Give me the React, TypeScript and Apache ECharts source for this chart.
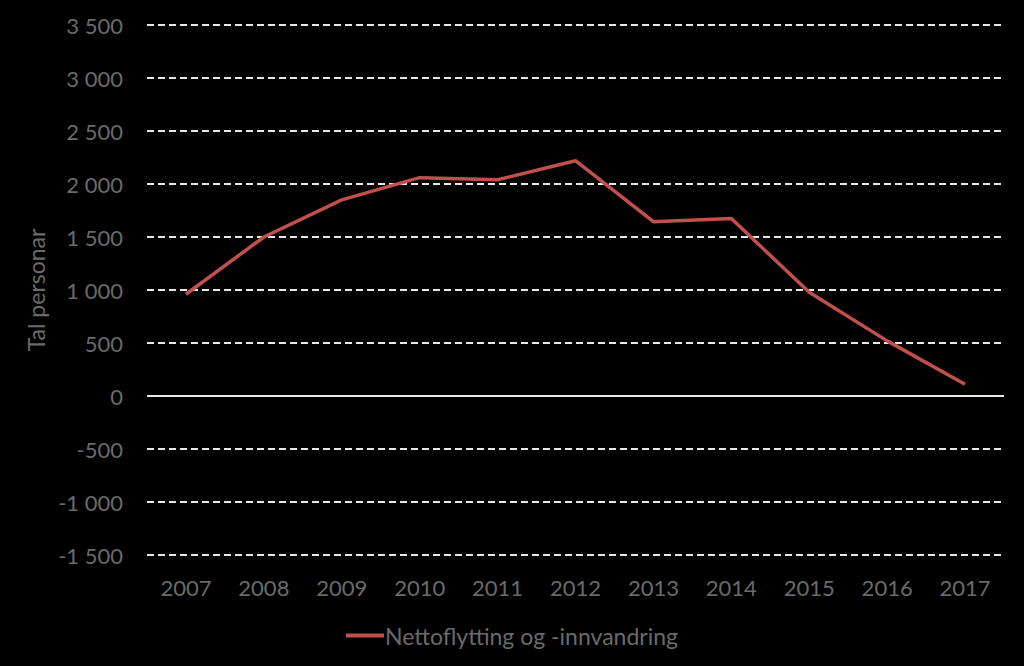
import React, { useEffect, useRef } from "react";
import * as echarts from "echarts";

const years = ["2007", "2008", "2009", "2010", "2011", "2012", "2013", "2014", "2015", "2016", "2017"];
const netMigration = [960, 1500, 1850, 2060, 2040, 2220, 1645, 1675, 978, 520, 110];
const seriesName = "Nettoflytting og -innvandring";
const yAxisName = "Tal personar";

const fmt = (v: number) => {
  const s = Math.abs(v).toString().replace(/\B(?=(\d{3})+(?!\d))/g, " ");
  return (v < 0 ? "-" : "") + s;
};

export default function App() {
  const ref = useRef<HTMLDivElement>(null);
  useEffect(() => {
    document.body.style.margin = "0";
    document.body.style.background = "#000";
    const chart = echarts.init(ref.current!, undefined, { renderer: "svg" });
    const font = "Lato, 'Open Sans', sans-serif";
    const grey = "#6a6a6a";
    chart.setOption({
      animation: false,
      backgroundColor: "#000000",
      textStyle: { fontFamily: font },
      grid: { left: 147, right: 20, top: 25, bottom: 111, containLabel: false },
      legend: {
        bottom: 14,
        left: "center",
        itemWidth: 38,
        itemHeight: 4,
        itemGap: 0,
        icon: "rect",
        textStyle: { color: grey, fontSize: 23, fontFamily: font, padding: [0, 0, 0, -4] },
        data: [seriesName],
      },
      xAxis: {
        type: "category",
        data: years,
        boundaryGap: true,
        axisLine: { show: false },
        axisTick: { show: false },
        axisLabel: { color: grey, fontSize: 22, margin: 21, fontFamily: font },
        splitLine: { show: false },
      },
      yAxis: {
        type: "value",
        min: -1500,
        max: 3500,
        interval: 500,
        name: yAxisName,
        nameLocation: "middle",
        nameGap: 95,
        nameRotate: 90,
        nameTextStyle: { color: grey, fontSize: 23, fontFamily: font },
        axisLine: { show: false },
        axisTick: { show: false },
        axisLabel: { color: grey, fontSize: 22, margin: 24, fontFamily: font, formatter: fmt },
        splitLine: {
          show: true,
          lineStyle: { color: "#e8e8e8", width: 2, type: [7, 4] },
        },
      },
      series: [
        {
          name: seriesName,
          type: "line",
          data: netMigration,
          symbol: "none",
          lineStyle: { color: "#c0504d", width: 3.5 },
          itemStyle: { color: "#c0504d" },
          markLine: {
            silent: true,
            symbol: "none",
            label: { show: false },
            lineStyle: { color: "#e8e8e8", width: 2, type: "solid" },
            data: [{ yAxis: 0 }],
          },
        },
      ],
    });
    return () => chart.dispose();
  }, []);
  return <div ref={ref} style={{ position: "fixed", left: 0, top: 0, width: 1024, height: 666 }} />;
}
